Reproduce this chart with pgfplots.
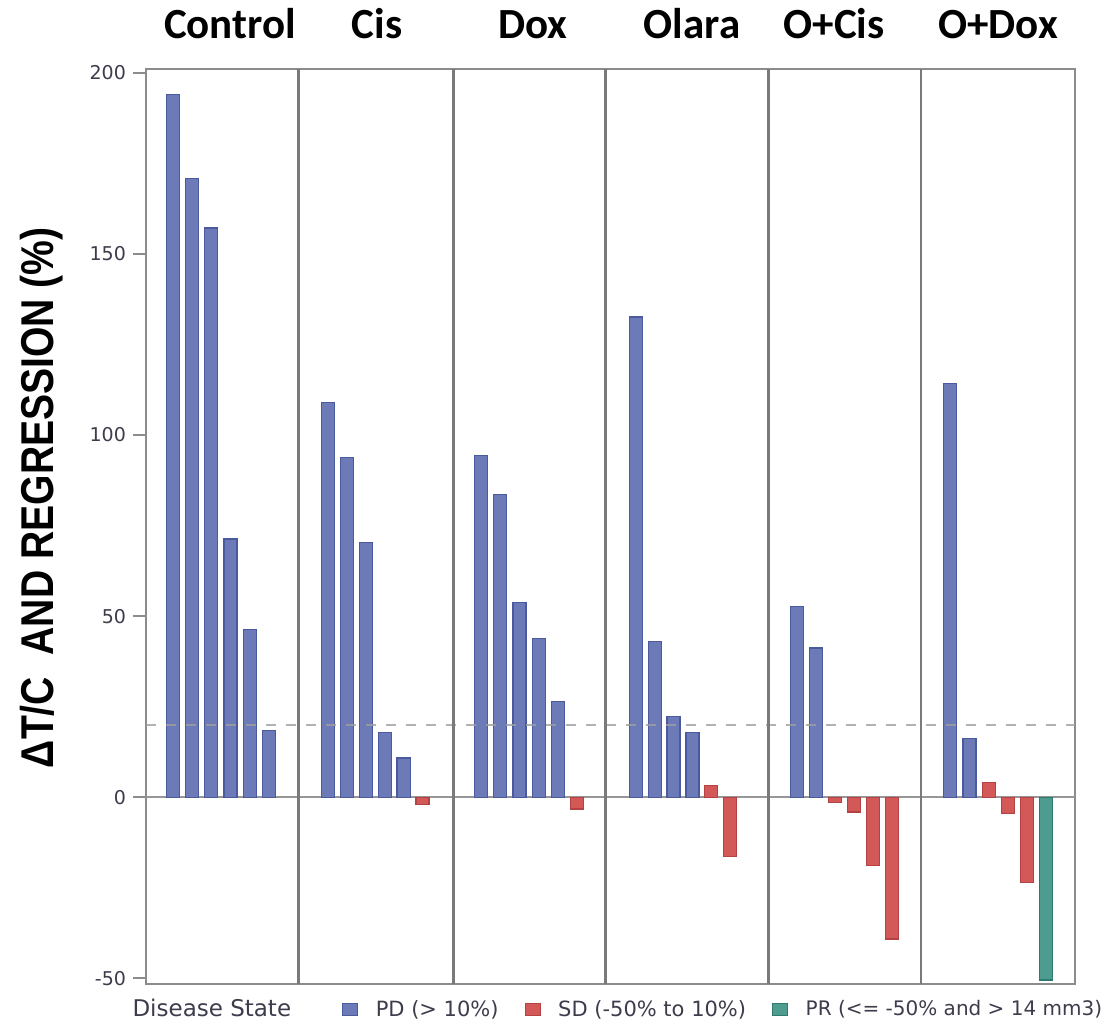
\documentclass[border=0pt]{standalone}
\usepackage{pgfplots}
\pgfplotsset{compat=1.18}
\usepackage{fontspec}
\setmainfont{DejaVu Sans}
\newfontfamily\titlefont{Carlito}
\newfontfamily\ylabfont[FakeStretch=0.85]{Liberation Sans}

\definecolor{pdfill}{HTML}{6C7AB8}
\definecolor{pdline}{HTML}{4B5A9E}
\definecolor{sdfill}{HTML}{D35858}
\definecolor{sdline}{HTML}{B54242}
\definecolor{prfill}{HTML}{4E9C90}
\definecolor{prline}{HTML}{2F7A6E}
\definecolor{framec}{HTML}{8C8C8C}
\definecolor{divc}{HTML}{7A7A7A}
\definecolor{tickc}{HTML}{3C3C4C}

% Tumour response per animal, grouped by treatment arm
% x = bar position, y = change in T/C (%)
\pgfplotstableread{
x y
173 194.0
192.2 170.8
211.4 157.2
230.6 71.3
249.8 46.4
269 18.4
328 109.0
346.9 93.9
365.8 70.3
384.7 17.9
403.6 10.8
481 94.4
500.2 83.5
519.4 53.8
538.6 43.9
557.8 26.4
635.7 132.6
654.6 43.0
673.5 22.3
692.4 17.9
796.8 52.7
815.8 41.2
950.3 114.2
969.5 16.1
}\pdtable

\pgfplotstableread{
x y
422.5 -2.1
577 -3.3
711.3 3.2
730.2 -16.4
834.9 -1.4
853.9 -4.1
873 -18.9
892 -39.2
988.7 4.1
1007.9 -4.6
1027.1 -23.6
}\sdtable

\pgfplotstableread{
x y
1046.3 -50.5
}\prtable

\begin{document}
\begin{tikzpicture}[x=0.5pt,y=0.5pt]
\path[use as bounding box] (-146,-36) rectangle (968,984);
\begin{axis}[
  at={(0pt,0pt)}, anchor=south west,
  scale only axis,
  width=464.5pt, height=457.5pt,
  xmin=146, xmax=1075,
  ymin=-51.6, ymax=201.1,
  clip=false,
  axis line style={draw=framec, line width=1pt},
  xtick=\empty,
  ytick={-50,0,50,100,150,200},
  tick align=outside,
  major tick length=6.5pt,
  tick style={draw=framec, line width=0.9pt},
  ytick pos=left,
  /pgf/number format/assume math mode=true,
  yticklabel style={font=\fontsize{9.5}{10}\selectfont, text=tickc},
  ybar, bar shift=0pt, bar width=13,
  legend columns=-1,
  legend style={
    at={(axis description cs:-0.0257,-0.028)}, anchor=west,
    draw=none, fill=none,
    font=\fontsize{10.5}{11}\selectfont, text=tickc,
    /tikz/every even column/.append style={column sep=11pt},
  },
  legend image code/.code={\fill[#1] (0pt,-3pt) rectangle (7.5pt,3pt);
    \path[draw=none, fill=none] (7.5pt,0pt) -- (14.5pt,0pt);},
]
\addlegendimage{empty legend}
\addlegendentry{\fontsize{11.5}{12}\selectfont Disease State\hspace*{12.5pt}\null}

% reference line at zero
\draw[draw=framec!90, line width=1pt] (axis cs:146,0) -- (axis cs:1075,0);

\addplot[fill=pdfill, draw=pdline, line width=0.6pt] table[x=x,y=y] {\pdtable};
\addlegendentry{PD (> 10\%)}
\addplot[fill=sdfill, draw=sdline, line width=0.6pt] table[x=x,y=y] {\sdtable};
\addlegendentry{SD (-50\% to 10\%)}
\addplot[fill=prfill, draw=prline, line width=0.6pt] table[x=x,y=y] {\prtable};
\addlegendentry{\fontsize{10}{11}\selectfont PR (<= -50\% and > 14 mm3)}

% 20% progression threshold
\draw[draw=gray!75, line width=1pt, dash pattern=on 5pt off 5pt, opacity=0.8]
  (axis cs:146,20) -- (axis cs:1075,20);

% panel dividers
\pgfplotsinvokeforeach{298.3,453.3,605.7,768.3,921}{
  \draw[draw=divc, line width=1.35pt] (axis cs:#1,-51.6) -- (axis cs:#1,201.1);
}

% treatment arm headings
\tikzset{armhead/.style={anchor=base, font=\titlefont\bfseries\fontsize{21.5}{23}\selectfont}}
\node[armhead] at (axis cs:230,209.5) {Control};
\node[armhead] at (axis cs:377,209.5) {Cis};
\node[armhead] at (axis cs:533,209.5) {Dox};
\node[armhead] at (axis cs:692,209.5) {Olara};
\node[armhead] at (axis cs:834,209.5) {O+Cis};
\node[armhead] at (axis cs:998,209.5) {O+Dox};

% y axis title
\node[rotate=90, anchor=center, font=\ylabfont\bfseries\fontsize{23}{24}\selectfont]
  at (axis cs:42,82.7) {ΔT/C\ \ AND REGRESSION (\%)};
\end{axis}
\end{tikzpicture}
\end{document}
